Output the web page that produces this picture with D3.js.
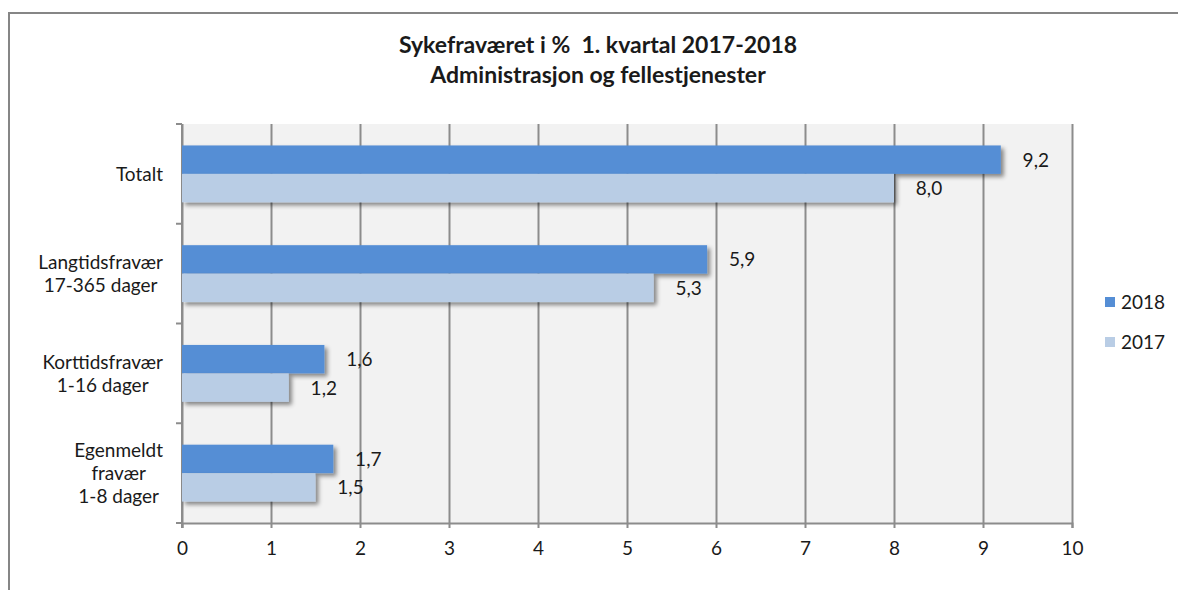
<!DOCTYPE html>
<html>
<head>
<meta charset="utf-8">
<script src="https://cdn.jsdelivr.net/npm/d3@7"></script>
<style>
  body { margin: 0; background: #fff; }
  svg { display: block; }
  text { font-family: Lato, "Open Sans", sans-serif; fill: #1a1a1a; }
</style>
</head>
<body>
<script>
// données
const kategorier = [
  ["Totalt"],
  ["Langtidsfravær", "17-365 dager"],
  ["Korttidsfravær", "1-16 dager"],
  ["Egenmeldt", "fravær", "1-8 dager"]
];
const serier = ["2018", "2017"];
const verdier2018 = [9.2, 5.9, 1.6, 1.7];
const verdier2017 = [8.0, 5.3, 1.2, 1.5];
const xTicks = [0, 1, 2, 3, 4, 5, 6, 7, 8, 9, 10];
const farger = ["#558ed5", "#b9cde5"];

const largeur = 1178, hauteur = 590;
const plot = { left: 182, right: 1072, top: 124, bottom: 523 };
const taille = "19px";

const svg = d3.select("body").append("svg")
  .attr("width", largeur)
  .attr("height", hauteur);

// ombre des barres
const defs = svg.append("defs");
const f = defs.append("filter").attr("id", "ombre")
  .attr("x", "-5%").attr("y", "-20%").attr("width", "115%").attr("height", "160%");
f.append("feDropShadow")
  .attr("dx", 3).attr("dy", 3).attr("stdDeviation", 2)
  .attr("flood-color", "#000").attr("flood-opacity", 0.45);

// cadre
svg.append("rect")
  .attr("x", 9).attr("y", 13)
  .attr("width", largeur + 20).attr("height", hauteur + 20)
  .attr("fill", "#fff")
  .attr("stroke", "#868686")
  .attr("stroke-width", 2);

// titre
const titre = svg.append("text")
  .attr("text-anchor", "middle")
  .style("font-size", "23px")
  .style("font-weight", "bold")
  .style("white-space", "pre");
titre.append("tspan").attr("x", 598).attr("y", 53).text("Sykefraværet i %  1. kvartal 2017-2018");
titre.append("tspan").attr("x", 598).attr("y", 83).text("Administrasjon og fellestjenester");

// échelles
const x = d3.scaleLinear().domain([0, 10]).range([plot.left, plot.right]);
const y = d3.scaleBand()
  .domain(d3.range(kategorier.length))
  .range([plot.top, plot.bottom])
  .paddingInner(0.43)
  .paddingOuter(0.215);
const ySerie = d3.scaleBand().domain(serier).range([0, y.bandwidth()]);

// fond du graphique
svg.append("rect")
  .attr("x", plot.left).attr("y", plot.top)
  .attr("width", plot.right - plot.left)
  .attr("height", plot.bottom - plot.top)
  .attr("fill", "#f2f2f2");

// grille + axe x
const axeX = svg.append("g")
  .attr("transform", `translate(0,${plot.bottom})`)
  .call(d3.axisBottom(x).tickValues(xTicks).tickSize(5).tickPadding(14)
    .tickFormat(d3.format("d")));
axeX.select(".domain").attr("stroke", "#8c8c8c").attr("stroke-width", 2);
axeX.selectAll(".tick line").attr("stroke", "#8c8c8c").attr("stroke-width", 2)
  .attr("y1", -(plot.bottom - plot.top));
axeX.selectAll(".tick text")
  .style("font-size", taille)
  .style("font-family", "Lato, 'Open Sans', sans-serif")
  .attr("fill", "#1a1a1a");

// axe y
const axeY = svg.append("g");
axeY.append("line")
  .attr("x1", plot.left).attr("x2", plot.left)
  .attr("y1", plot.top).attr("y2", plot.bottom + 5)
  .attr("stroke", "#8c8c8c").attr("stroke-width", 2);
axeY.selectAll(".ytick")
  .data(d3.range(kategorier.length + 1))
  .join("line")
  .attr("class", "ytick")
  .attr("x1", plot.left - 6).attr("x2", plot.left)
  .attr("y1", i => plot.top + i * y.step())
  .attr("y2", i => plot.top + i * y.step())
  .attr("stroke", "#8c8c8c").attr("stroke-width", 2);

// étiquettes des catégories
kategorier.forEach((lignes, i) => {
  const cy = y(i) + y.bandwidth() / 2;
  const h = 23;
  const t = svg.append("text")
    .attr("text-anchor", "middle")
    .style("font-size", taille);
  lignes.forEach((l, j) => {
    t.append("tspan")
      .attr("x", 0)
      .attr("y", cy + (j - (lignes.length - 1) / 2) * h + 7)
      .text(l);
  });
  const w = d3.max(t.selectAll("tspan").nodes(), n => n.getComputedTextLength());
  t.selectAll("tspan").attr("x", 163 - w / 2);
});

// barres
const donnees = [verdier2018, verdier2017];
serier.forEach((s, k) => {
  const g = svg.append("g");
  g.selectAll("rect")
    .data(donnees[k])
    .join("rect")
    .attr("x", x(0))
    .attr("y", (d, i) => y(i) + ySerie(s))
    .attr("width", d => x(d) - x(0))
    .attr("height", ySerie.bandwidth())
    .attr("fill", farger[k])
    .attr("filter", "url(#ombre)");
});
// étiquettes des valeurs
serier.forEach((s, k) => {
  svg.append("g").selectAll("text")
    .data(donnees[k])
    .join("text")
    .attr("x", d => x(d) + 35)
    .attr("y", (d, i) => y(i) + ySerie(s) + ySerie.bandwidth() / 2 + 7)
    .attr("text-anchor", "middle")
    .style("font-size", taille)
    .text(d => d3.format(".1f")(d).replace(".", ","));
});

// légende
const legende = svg.append("g").selectAll("g")
  .data(serier)
  .join("g")
  .attr("transform", (d, i) => `translate(1105,${297 + i * 40})`);
legende.append("rect").attr("width", 10).attr("height", 10).attr("fill", (d, i) => farger[i]);
legende.append("text").attr("x", 16).attr("y", 12).style("font-size", taille).text(d => d);
</script>
</body>
</html>
